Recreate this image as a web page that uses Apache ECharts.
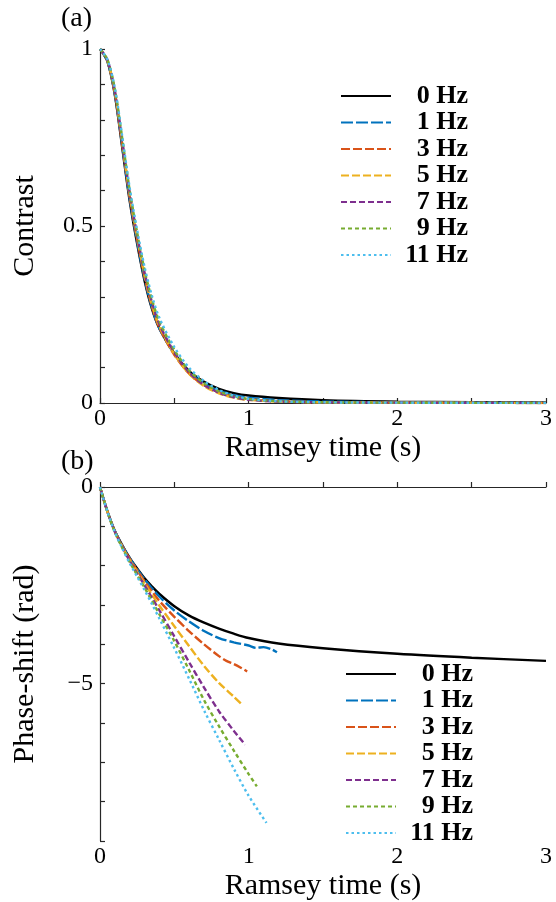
<!DOCTYPE html>
<html><head><meta charset="utf-8">
<script src="https://cdn.jsdelivr.net/npm/echarts@6/dist/echarts.min.js"></script>
<style>html,body{margin:0;padding:0;background:#fff}#c{width:556px;height:902px}</style>
</head><body><div id="c"></div>
<script>
var names = ['0 Hz','1 Hz','3 Hz','5 Hz','7 Hz','9 Hz','11 Hz'];
var colors = ['#000000','#0072BD','#D95319','#EDB120','#7E2F8E','#77AC30','#4DBEEE'];
var dashes = ['solid',[12,3],[9,3],[8,3],[6,3],[4,3],[2.5,3]];

// panel (a): contrast vs Ramsey time
var tTop = [0,0.05,0.1,0.15,0.2,0.25,0.3,0.35,0.4,0.5,0.6,0.7,0.8,0.9,1.0,1.2,1.5,2.0,2.5,3.0];
var c0  = [1.0,0.965,0.87,0.72,0.57,0.45,0.345,0.265,0.21,0.14,0.09,0.06,0.04,0.028,0.021,0.014,0.008,0.004,0.0025,0.0015];
var c1  = [1.0,0.966,0.872,0.725,0.576,0.455,0.35,0.268,0.21,0.138,0.086,0.055,0.034,0.022,0.015,0.008,0.004,0.002,0.001,0.0005];
var c3  = [1.0,0.967,0.875,0.73,0.582,0.462,0.356,0.272,0.212,0.136,0.083,0.05,0.03,0.018,0.011,0.005,0.002,0.001,0.0005,0];
var c5  = [1.0,0.968,0.878,0.735,0.588,0.468,0.362,0.278,0.216,0.138,0.082,0.048,0.027,0.015,0.009,0.004,0.002,0.001,0.0005,0];
var c7  = [1.0,0.969,0.882,0.74,0.594,0.474,0.368,0.284,0.222,0.143,0.086,0.051,0.029,0.016,0.009,0.004,0.002,0.001,0.0005,0];
var c9  = [1.0,0.97,0.886,0.746,0.6,0.48,0.375,0.292,0.23,0.15,0.092,0.056,0.033,0.019,0.011,0.005,0.002,0.001,0.0005,0];
var c11 = [1.0,0.97,0.89,0.752,0.607,0.488,0.384,0.302,0.24,0.158,0.099,0.062,0.037,0.021,0.012,0.005,0.002,0.001,0.0005,0];

// panel (b): phase-shift vs Ramsey time
var tPh0  = [0,0.05,0.1,0.15,0.2,0.25,0.3,0.35,0.4,0.5,0.6,0.7,0.8,0.9,1.0,1.2,1.5,2.0,2.5,3.0];
var ph0   = [0,-0.62,-1.12,-1.48,-1.8,-2.07,-2.32,-2.53,-2.72,-3.03,-3.27,-3.45,-3.6,-3.73,-3.84,-3.98,-4.1,-4.24,-4.34,-4.42];
var tPh1  = [0,0.05,0.1,0.15,0.2,0.25,0.3,0.35,0.4,0.5,0.6,0.7,0.8,0.9,1.0,1.05,1.1,1.15,1.19];
var ph1   = [0,-0.62,-1.12,-1.49,-1.81,-2.09,-2.35,-2.58,-2.79,-3.14,-3.42,-3.66,-3.84,-3.95,-4.03,-4.09,-4.07,-4.12,-4.2];
var tPh3  = [0,0.05,0.1,0.15,0.2,0.25,0.3,0.35,0.4,0.5,0.6,0.7,0.8,0.85,0.9,0.95,0.99];
var ph3   = [0,-0.62,-1.13,-1.5,-1.83,-2.12,-2.4,-2.66,-2.9,-3.3,-3.67,-4.0,-4.3,-4.42,-4.5,-4.6,-4.69];
var tPh5  = [0,0.05,0.1,0.15,0.2,0.25,0.3,0.35,0.4,0.5,0.6,0.7,0.8,0.9,0.955];
var ph5   = [0,-0.63,-1.14,-1.52,-1.86,-2.16,-2.45,-2.74,-3.02,-3.54,-4.05,-4.55,-4.98,-5.33,-5.53];
var tPh7  = [0,0.05,0.1,0.15,0.2,0.25,0.3,0.35,0.4,0.5,0.6,0.7,0.8,0.9,0.976];
var ph7   = [0,-0.63,-1.14,-1.53,-1.88,-2.2,-2.5,-2.82,-3.14,-3.8,-4.46,-5.1,-5.7,-6.2,-6.55];
var tPh9  = [0,0.05,0.1,0.15,0.2,0.25,0.3,0.35,0.4,0.5,0.6,0.7,0.8,0.9,1.0,1.055];
var ph9   = [0,-0.63,-1.15,-1.55,-1.91,-2.24,-2.56,-2.9,-3.24,-3.92,-4.66,-5.42,-6.08,-6.7,-7.3,-7.61];
var tPh11 = [0,0.05,0.1,0.15,0.2,0.25,0.3,0.35,0.4,0.5,0.6,0.7,0.8,0.9,1.0,1.12];
var ph11  = [0,-0.63,-1.15,-1.56,-1.94,-2.28,-2.62,-2.98,-3.35,-4.1,-4.88,-5.68,-6.42,-7.16,-7.85,-8.54];

var xTickLabels = ['0','1','2','3'];
var yTopLabels = ['0','0.5','1'];
var yBotLabels = ['0','−5'];

var topData = [c0,c1,c3,c5,c7,c9,c11];
var botT = [tPh0,tPh1,tPh3,tPh5,tPh7,tPh9,tPh11];
var botV = [ph0,ph1,ph3,ph5,ph7,ph9,ph11];

function pairs(t, v){ return t.map(function(x,i){ return [x, v[i]]; }); }

var FONT = '"Liberation Serif", "DejaVu Serif", serif';
var AX = '#262626';

function xAxisDef(gi){
  return {
    type:'value', gridIndex:gi, min:0, max:3, interval:0.5,
    name:'Ramsey time (s)', nameLocation:'middle', nameGap:30,
    nameTextStyle:{fontFamily:FONT, fontSize:30, color:'#000'},
    axisLine:{lineStyle:{color:AX, width:1.2}},
    axisTick:{inside:true, length:5, lineStyle:{color:AX, width:1.2}},
    axisLabel:{fontFamily:FONT, fontSize:24, color:'#000', margin:4,
      formatter:function(v){ var r=Math.round(v); return Math.abs(v-r)<1e-6 && xTickLabels.indexOf(String(r))>=0 ? String(r) : ''; }},
    splitLine:{show:false}
  };
}

var series = [];
for (var i=0;i<7;i++){
  series.push({
    name:names[i], type:'line', xAxisIndex:0, yAxisIndex:0, symbol:'none', smooth:0.3,
    data:pairs(tTop, topData[i]), z:2+i,
    lineStyle:{color:colors[i], width:2.4, type:dashes[i]}, itemStyle:{color:colors[i]}
  });
}
for (var i=0;i<7;i++){
  series.push({
    name:names[i], type:'line', xAxisIndex:1, yAxisIndex:1, symbol:'none', smooth:0.3,
    data:pairs(botT[i], botV[i]), z:2+i,
    lineStyle:{color:colors[i], width:2.4, type:dashes[i]}, itemStyle:{color:colors[i]}
  });
}

function legendDef(left, top){
  return {
    data:names, orient:'vertical', left:left, top:top, padding:0,
    itemWidth:50, itemHeight:12, itemGap:0.5, selectedMode:false,
    itemStyle:{opacity:0},
    formatter:function(n){ return '{n|'+n+'}'; },
    textStyle:{rich:{n:{fontFamily:FONT, fontWeight:'bold', fontSize:26, color:'#000', width:72, align:'right', lineHeight:24}}}
  };
}

var option = {
  animation:false,
  backgroundColor:'#fff',
  title:[
    {text:'(a)', left:61, top:5, padding:0, textStyle:{fontFamily:FONT, fontSize:28, fontWeight:'normal', color:'#000'}},
    {text:'(b)', left:61, top:448, padding:0, textStyle:{fontFamily:FONT, fontSize:28, fontWeight:'normal', color:'#000'}}
  ],
  legend:[legendDef(340,83), legendDef(345,661)],
  grid:[
    {left:100, top:49, width:446, height:354},
    {left:100, top:487, width:446, height:354}
  ],
  xAxis:[xAxisDef(0), xAxisDef(1)],
  yAxis:[
    {type:'value', gridIndex:0, min:0, max:1, interval:0.1,
     name:'Contrast', nameLocation:'middle', nameGap:60,
     nameTextStyle:{fontFamily:FONT, fontSize:30, color:'#000'},
     axisLine:{lineStyle:{color:AX, width:1.2}},
     axisTick:{inside:true, length:5, lineStyle:{color:AX, width:1.2}},
     axisLabel:{fontFamily:FONT, fontSize:24, color:'#000', margin:7,
       formatter:function(v){ var s = Math.abs(v)<1e-6?'0':(Math.abs(v-0.5)<1e-6?'0.5':(Math.abs(v-1)<1e-6?'1':'')); return yTopLabels.indexOf(s)>=0?s:''; }},
     splitLine:{show:false}},
    {type:'value', gridIndex:1, min:-9, max:0, interval:1,
     name:'Phase-shift (rad)', nameLocation:'middle', nameGap:60,
     nameTextStyle:{fontFamily:FONT, fontSize:30, color:'#000'},
     axisLine:{lineStyle:{color:AX, width:1.2}},
     axisTick:{inside:true, length:5, lineStyle:{color:AX, width:1.2}},
     axisLabel:{fontFamily:FONT, fontSize:24, color:'#000', margin:7,
       formatter:function(v){ if (v===0) return yBotLabels[0]; if (v===-5) return yBotLabels[1]; return ''; }},
     splitLine:{show:false}}
  ],
  series:series
};
var chart = echarts.init(document.getElementById('c'), null, {renderer:'canvas'});
chart.setOption(option);
</script></body></html>
